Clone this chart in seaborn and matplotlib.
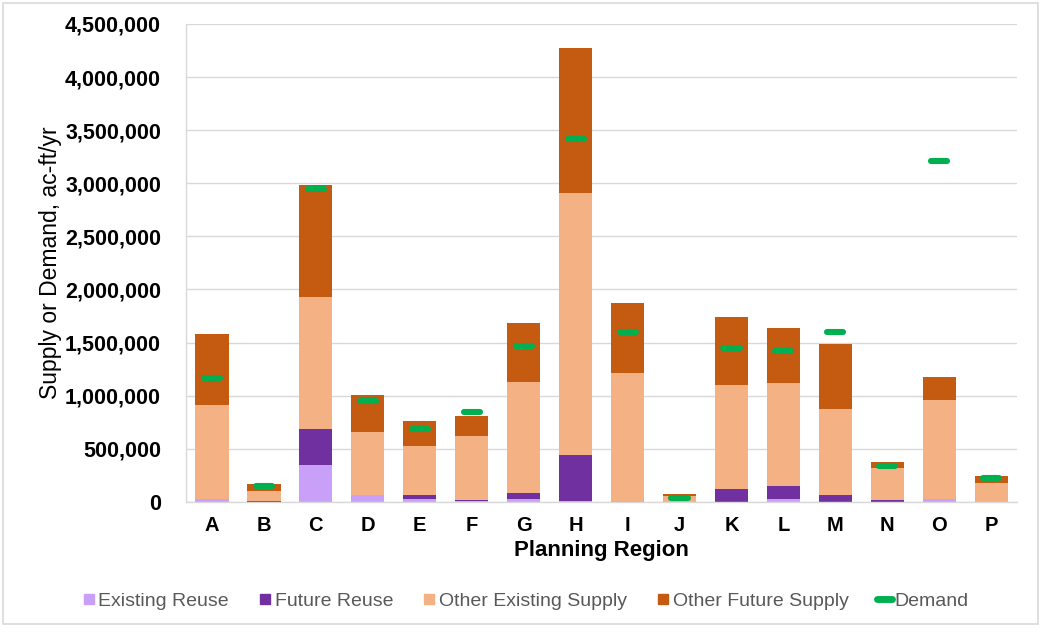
import matplotlib
matplotlib.use("Agg")
import matplotlib.pyplot as plt
from matplotlib.lines import Line2D
from matplotlib.patches import Rectangle
from matplotlib.ticker import FuncFormatter
import numpy as np
import pandas as pd
import seaborn as sns

regions = ["A", "B", "C", "D", "E", "F", "G", "H", "I", "J", "K", "L", "M", "N", "O", "P"]
existing_reuse = [31000, 0, 352000, 63000, 31000, 10000, 31000, 12000, 5000, 0, 0, 31000, 0, 0, 28000, 0]
future_reuse = [0, 12000, 330000, 0, 31000, 12000, 53000, 434000, 0, 0, 126000, 116000, 63000, 19000, 0, 0]
other_existing = [877000, 94000, 1243000, 591000, 460000, 603000, 1048000, 2460000, 1205000, 56000,
                  975000, 969000, 811000, 304000, 934000, 176000]
other_future = [677000, 63000, 1055000, 355000, 236000, 180000, 557000, 1368000, 661000, 22000,
                638000, 522000, 614000, 57000, 211000, 66000]
demand = [1170000, 150000, 2943000, 950000, 686000, 842000, 1472000, 3415000, 1597000, 40000,
          1450000, 1425000, 1597000, 340000, 3205000, 229000]

series_names = ["Existing Reuse", "Future Reuse", "Other Existing Supply", "Other Future Supply"]
series_colors = ["#C9A0F7", "#7030A0", "#F4B183", "#C55A11"]
demand_color = "#00B050"

sns.set_theme(style="white")
plt.rcParams["font.family"] = ["Liberation Sans", "DejaVu Sans"]

fig = plt.figure(figsize=(10.39, 6.29), dpi=100)
ax = fig.add_axes([0.179, 0.202, 0.800, 0.760])

df = pd.DataFrame({"region": regions,
                   series_names[0]: existing_reuse,
                   series_names[1]: future_reuse,
                   series_names[2]: other_existing,
                   series_names[3]: other_future})

bottom = np.zeros(len(regions))
for name, col in zip(series_names, series_colors):
    vals = np.array(df[name], dtype=float)
    sns.barplot(x=df["region"], y=vals, bottom=bottom, color=col, width=0.64,
                errorbar=None, ax=ax, saturation=1, linewidth=0, zorder=2)
    bottom = bottom + vals

xpos = np.arange(len(regions))
ax.hlines(demand, xpos - 0.155, xpos + 0.155, colors=demand_color, linewidth=4.4,
          capstyle="round", zorder=4)

ax.set_xlim(-0.5, len(regions) - 0.5)
ax.set_ylim(0, 4500000)
ax.set_yticks(np.arange(0, 4500001, 500000))
ax.yaxis.set_major_formatter(FuncFormatter(lambda v, p: f"{int(v):,}"))
ax.grid(axis="y", color="#D9D9D9", linewidth=1, zorder=0)
ax.set_axisbelow(True)
for s in ["top", "right", "left", "bottom"]:
    ax.spines[s].set_color("#D9D9D9")
    ax.spines[s].set_linewidth(1)
ax.spines["top"].set_visible(False)
ax.spines["right"].set_visible(False)

ax.tick_params(axis="y", length=0, pad=18, labelsize=15.5, colors="black")
ax.tick_params(axis="x", length=0, pad=10, labelsize=14.5, colors="black")
for t in ax.get_yticklabels() + ax.get_xticklabels():
    t.set_fontweight("bold")

ax.set_ylabel("Supply or Demand, ac-ft/yr", fontsize=16.5, labelpad=2, color="black")
ax.set_xlabel("Planning Region", fontsize=16, fontweight="bold", labelpad=4, color="black")

handles = [Line2D([0], [0], marker="s", linestyle="none", markersize=7,
                  markerfacecolor=c, markeredgecolor=c) for c in series_colors]
handles.append(Line2D([0], [0], color=demand_color, linewidth=5, solid_capstyle="round"))
labels = series_names + ["Demand"]
leg = fig.legend(handles, labels, loc="center", bbox_to_anchor=(0.505, 0.044), ncol=5,
                 frameon=False, fontsize=14, handlelength=0.8, handletextpad=0.1,
                 columnspacing=1.45, labelcolor="#595959")

fig.patches.append(Rectangle((0.003, 0.008), 0.996, 0.987, transform=fig.transFigure,
                             fill=False, edgecolor="#D9D9D9", linewidth=1.2))

fig.savefig("out.png", dpi=100)
